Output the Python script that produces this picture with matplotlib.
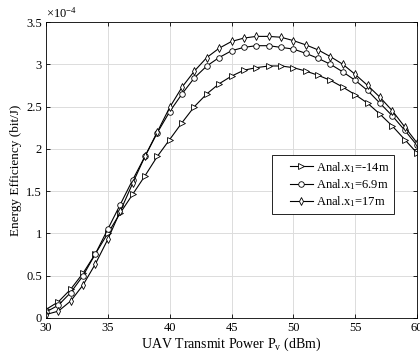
import matplotlib
matplotlib.use("Agg")
import matplotlib.pyplot as plt
import numpy as np
from matplotlib.legend_handler import HandlerLine2D

plt.rcParams['font.family'] = ['Liberation Serif', 'DejaVu Serif']
plt.rcParams['mathtext.fontset'] = 'custom'
plt.rcParams['mathtext.rm'] = 'Liberation Serif'
plt.rcParams['mathtext.it'] = 'Liberation Serif:italic'

power_dbm = list(range(30, 61))
ee_m14 = [0.10, 0.19, 0.34, 0.53, 0.76, 1.00, 1.24, 1.46, 1.68, 1.91, 2.11, 2.31, 2.50, 2.65,
          2.77, 2.86, 2.93, 2.96, 2.98, 2.98, 2.96, 2.92, 2.87, 2.81, 2.73, 2.64, 2.54, 2.41,
          2.27, 2.11, 1.95]
ee_6p9 = [0.07, 0.15, 0.30, 0.50, 0.76, 1.05, 1.34, 1.63, 1.91, 2.19, 2.44, 2.65, 2.84, 2.98,
          3.08, 3.16, 3.20, 3.22, 3.22, 3.20, 3.18, 3.13, 3.07, 3.00, 2.91, 2.81, 2.69, 2.54,
          2.39, 2.22, 2.04]
ee_17 = [0.04, 0.08, 0.20, 0.39, 0.64, 0.93, 1.26, 1.59, 1.91, 2.20, 2.49, 2.73, 2.92, 3.08,
         3.19, 3.27, 3.31, 3.33, 3.33, 3.32, 3.28, 3.23, 3.17, 3.09, 3.00, 2.88, 2.75, 2.61,
         2.45, 2.26, 2.07]
labels = ['Anal.x$_{\\mathregular{1}}$=-14m', 'Anal.x$_{\\mathregular{1}}$=6.9m',
          'Anal.x$_{\\mathregular{1}}$=17m']
xticks = [30, 35, 40, 45, 50, 55, 60]
yticks = [0, 0.5, 1, 1.5, 2, 2.5, 3, 3.5]
ytick_labels = ['0', '0.5', '1', '1.5', '2', '2.5', '3', '3.5']


class ShiftedLineHandler(HandlerLine2D):
    def get_xdata(self, legend, xdescent, ydescent, width, height, fontsize):
        x0 = -xdescent + width * 0.35
        x1 = -xdescent + width
        return np.array([x0, x1]), np.array([(x0 + x1) / 2])


fig = plt.figure(figsize=(4.2, 3.58), dpi=100)
ax = fig.add_axes([0.1095, 0.112, 0.8835, 0.8265])

for ys, m, lab in zip([ee_m14, ee_6p9, ee_17], ['>', 'o', 'd'], labels):
    ax.plot(power_dbm, ys, color='black', lw=0.8, marker=m, markersize=4,
            markerfacecolor='white', markeredgecolor='black', markeredgewidth=0.6, label=lab)

ax.set_xlim(30, 60)
ax.set_ylim(0, 3.5)
ax.set_xticks(xticks)
ax.set_yticks(yticks)
ax.set_yticklabels(ytick_labels)
ax.tick_params(direction='in', labelsize=9, length=3, width=0.6, top=True, right=True, pad=3)
ax.grid(True, color='#dcdcdc', lw=0.7)
ax.set_axisbelow(True)
for s in ax.spines.values():
    s.set_linewidth(0.6)

ax.set_xlabel('UAV Transmit Power P$_{\\mathregular{v}}$ (dBm)', fontsize=10, labelpad=1)
ax.set_ylabel('Energy Efficiency (bit/J)', fontsize=9.5, labelpad=3)
ax.text(0.0, 1.005, '$\\times\\mathregular{10^{-4}}$', transform=ax.transAxes,
        fontsize=9, ha='left', va='bottom')

leg = ax.legend(loc='upper left', bbox_to_anchor=(0.609, 0.551), fontsize=9,
                frameon=True, fancybox=False, edgecolor='black', framealpha=1,
                handlelength=2.9, handletextpad=0.2, borderpad=0.4, labelspacing=0.2,
                borderaxespad=0, handler_map={plt.Line2D: ShiftedLineHandler()})
leg.get_frame().set_linewidth(0.6)

fig.savefig('out.png', dpi=100)
